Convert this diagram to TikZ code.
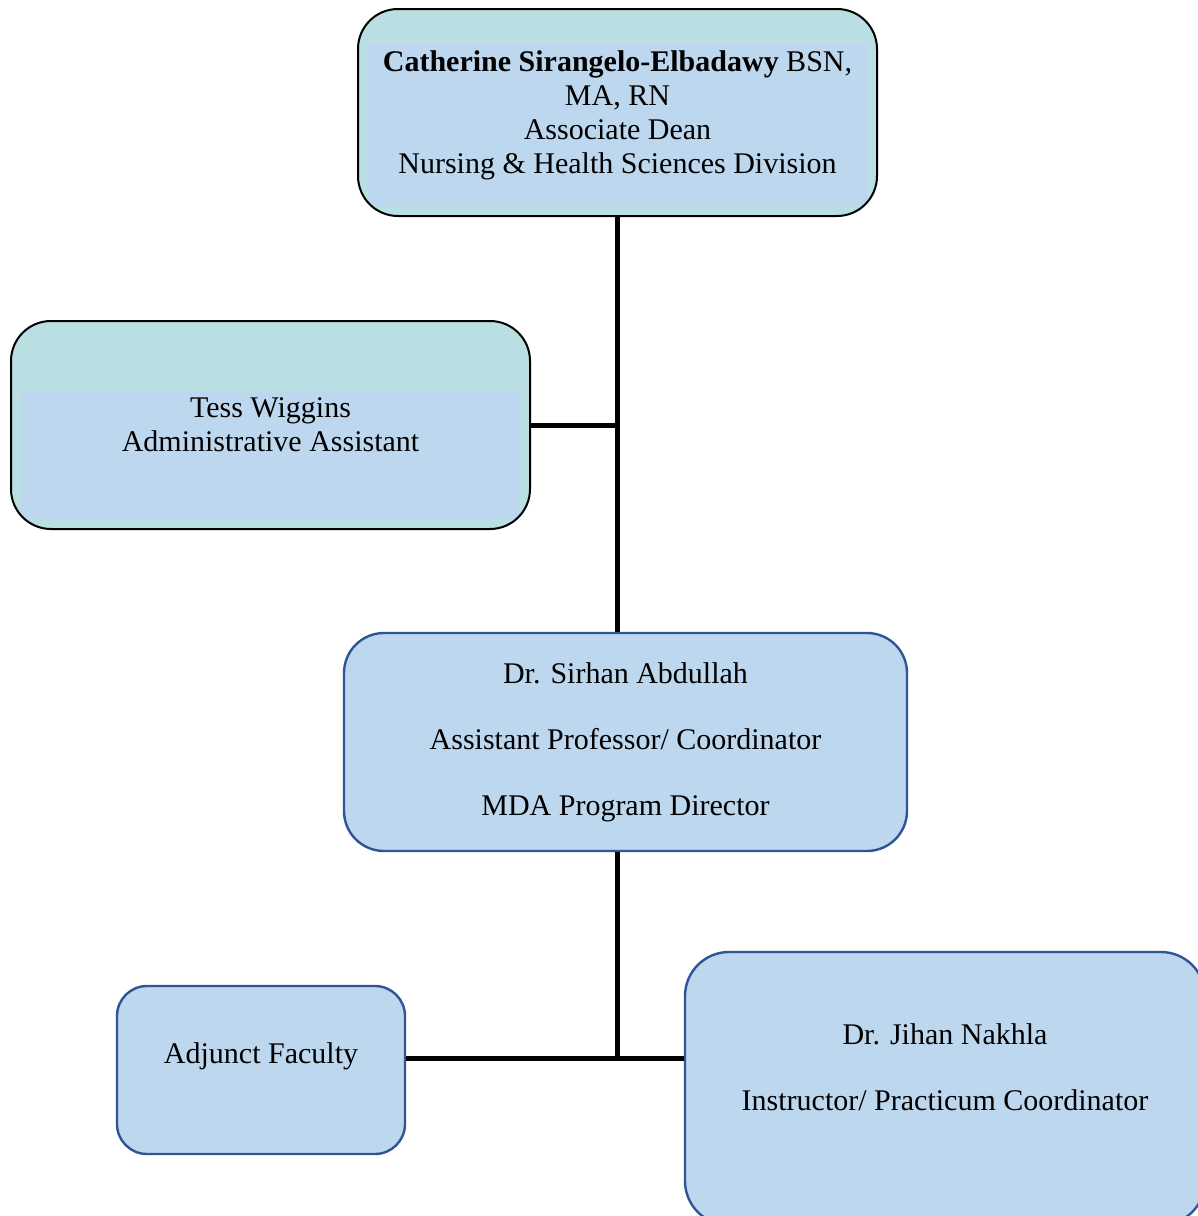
\documentclass[tikz,border=0pt]{standalone}
\usepackage{fontspec}
\setmainfont{Liberation Serif}
\usetikzlibrary{calc}

\definecolor{deanteal}{HTML}{B9DFE3}
\definecolor{boxblue}{HTML}{BDD7EE}
\definecolor{edgeblue}{HTML}{2F5597}

\begin{document}
\begin{tikzpicture}[x=0.5pt,y=-0.5pt,
		font=\fontsize{15}{17}\selectfont,
		tealbox/.style={draw=black,line width=1pt,fill=deanteal,rounded corners=20pt,align=center,inner sep=0pt},
		bluebox/.style={draw=edgeblue,line width=1.2pt,fill=boxblue,rounded corners=20pt,align=center,inner sep=0pt},
		band/.style={path picture={\fill[boxblue,sharp corners] ([xshift=5pt,yshift=-#1]path picture bounding box.north west) rectangle ([xshift=-5pt,yshift=5pt]path picture bounding box.south east);}},
		link/.style={line width=2.5pt,black}]
		\useasboundingbox (0,0) rectangle (1198,1216);
		\clip (0,0) rectangle (1198,1216);
		% boxes
		\node[tealbox,band=17.5pt,minimum width=259.5pt,minimum height=103.5pt,text depth=0pt] (dean) at (617.5,112.5) {\textbf{Catherine Sirangelo-Elbadawy} BSN,\\MA, RN\\Associate Dean\\Nursing \& Health Sciences Division};
		\node[tealbox,band=35pt,minimum width=259.5pt,minimum height=104pt] (tess) at (270.5,425) {Tess Wiggins\\Administrative Assistant};
		\node[bluebox,minimum width=281.5pt,minimum height=109pt] (coord) at (625.5,742) {Dr. Sirhan Abdullah\\[16pt]Assistant Professor/ Coordinator\\[16pt]MDA Program Director};
		\node[bluebox,rounded corners=15pt,minimum width=144pt,minimum height=84pt,text depth=17pt] (adjunct) at (261,1070) {Adjunct Faculty};
		\node[bluebox,rounded corners=22pt,minimum width=260pt,minimum height=136.5pt,text depth=21pt] (jihan) at (945,1088.5) {Dr. Jihan Nakhla\\[16pt]Instructor/ Practicum Coordinator};
		% lines
		\coordinate (fork) at (617,1058);
		\draw[link] (dean.south) -- (dean.south |- coord.north);
		\draw[link] (tess.east) -- (tess.east -| dean.south);
		\draw[link] (coord.south -| fork) -- (fork);
		\draw[link] (adjunct.east |- fork) -- (jihan.west |- fork);
\end{tikzpicture}
\end{document}
